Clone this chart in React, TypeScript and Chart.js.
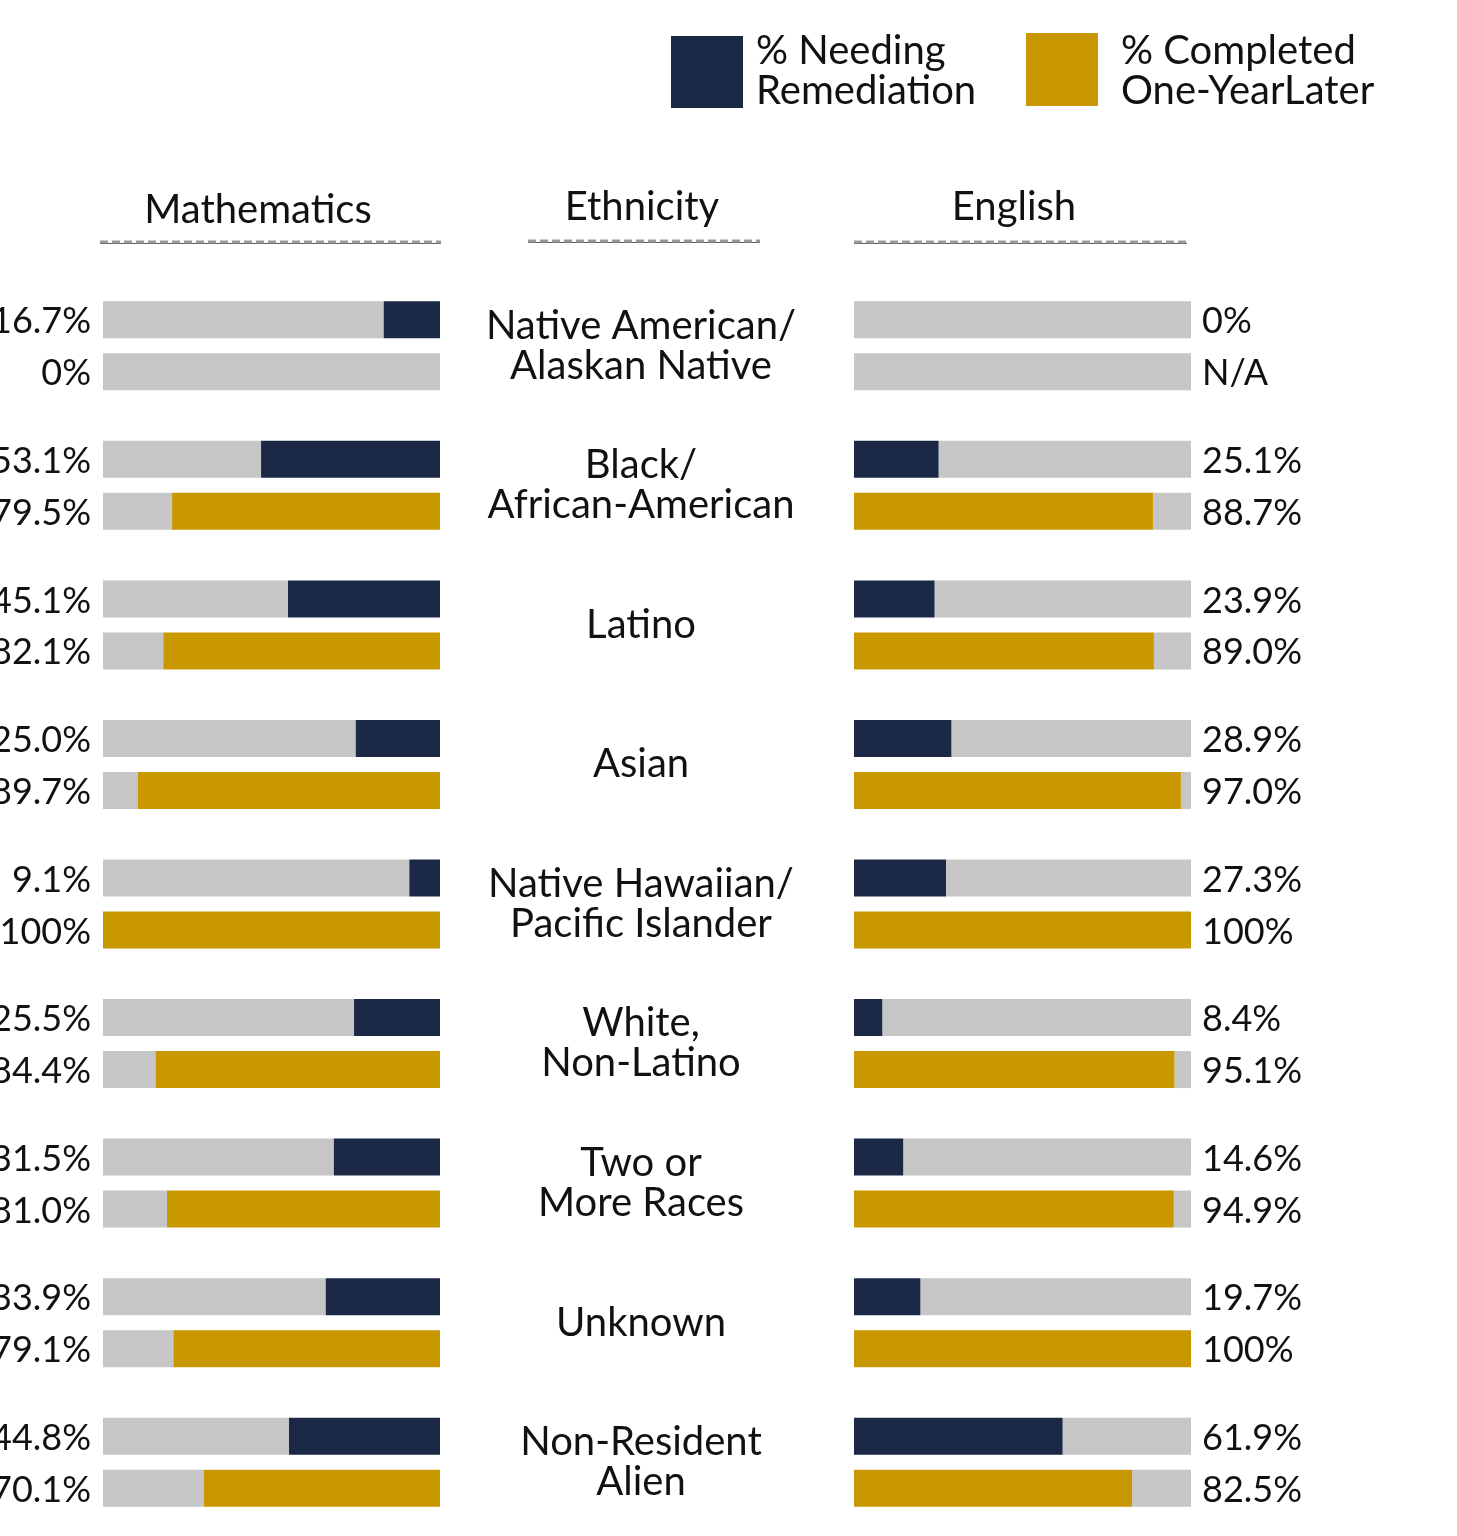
import React, { useEffect, useRef } from "react";
import { Chart, registerables } from "chart.js";

Chart.register(...registerables);

// ---------- data ----------
const ethnicities: string[][] = [
  ["Native American/", "Alaskan Native"],
  ["Black/", "African-American"],
  ["Latino"],
  ["Asian"],
  ["Native Hawaiian/", "Pacific Islander"],
  ["White,", "Non-Latino"],
  ["Two or", "More Races"],
  ["Unknown"],
  ["Non-Resident", "Alien"],
];
const mathRemediation: (number | null)[] = [16.7, 53.1, 45.1, 25.0, 9.1, 25.5, 31.5, 33.9, 44.8];
const mathCompleted: (number | null)[] = [0, 79.5, 82.1, 89.7, 100, 84.4, 81.0, 79.1, 70.1];
const englishRemediation: (number | null)[] = [0, 25.1, 23.9, 28.9, 27.3, 8.4, 14.6, 19.7, 61.9];
const englishCompleted: (number | null)[] = [null, 88.7, 89.0, 97.0, 100, 95.1, 94.9, 100, 82.5];
const legendLabels: string[][] = [
  ["% Needing", "Remediation"],
  ["% Completed", "One-YearLater"],
];
const panelTitles = ["Mathematics", "Ethnicity", "English"];

// ---------- style ----------
const NAVY = "#1b2846";
const GOLD = "#c99700";
const GRAY = "#c6c6c6";
const TEXT = "#111111";
const FONT = "Lato, 'Noto Sans', sans-serif";
const W = 1457;
const H = 1536;

const fmt = (v: number | null) =>
  v === null ? "N/A" : v === 0 || v === 100 ? `${v}%` : `${v.toFixed(1)}%`;

function panelDatasets(rem: (number | null)[], comp: (number | null)[]) {
  return [
    { label: legendLabels[0].join(" "), data: rem.map((v) => v ?? 0), backgroundColor: NAVY, stack: "rem" },
    { label: "rest-rem", data: rem.map((v) => 100 - (v ?? 0)), backgroundColor: GRAY, stack: "rem" },
    { label: legendLabels[1].join(" "), data: comp.map((v) => v ?? 0), backgroundColor: GOLD, stack: "comp" },
    { label: "rest-comp", data: comp.map((v) => 100 - (v ?? 0)), backgroundColor: GRAY, stack: "comp" },
  ];
}

function valueLabelPlugin(side: "left" | "right", rem: (number | null)[], comp: (number | null)[]) {
  return {
    id: "valueLabels",
    afterDatasetsDraw(chart: any) {
      const ctx = chart.ctx;
      const area = chart.chartArea;
      ctx.save();
      ctx.font = `36px ${FONT}`;
      ctx.fillStyle = TEXT;
      ctx.textBaseline = "middle";
      ctx.textAlign = side === "left" ? "right" : "left";
      const x = side === "left" ? area.left - 12 : area.right + 11;
      [
        [0, rem],
        [2, comp],
      ].forEach(([dsIndex, values]: any) => {
        const meta = chart.getDatasetMeta(dsIndex);
        meta.data.forEach((el: any, i: number) => {
          ctx.fillText(fmt(values[i]), x, el.y + 2);
        });
      });
      ctx.restore();
    },
  };
}

function drawUnderline(ctx: CanvasRenderingContext2D, x1: number, x2: number, y: number) {
  ctx.save();
  ctx.strokeStyle = "#555555";
  ctx.lineWidth = 1;
  ctx.beginPath();
  ctx.moveTo(x1, y + 1.5);
  ctx.lineTo(x2, y + 1.5);
  ctx.stroke();
  ctx.strokeStyle = "#9a9a9a";
  ctx.lineWidth = 3;
  ctx.setLineDash([8, 4]);
  ctx.beginPath();
  ctx.moveTo(x1, y);
  ctx.lineTo(x2, y);
  ctx.stroke();
  ctx.restore();
}

const decorPlugin = {
  id: "decor",
  afterDraw(chart: any) {
    const ctx = chart.ctx as CanvasRenderingContext2D;
    const yScale = chart.scales.y;
    ctx.save();
    ctx.fillStyle = TEXT;
    ctx.textBaseline = "middle";
    ctx.textAlign = "center";
    ctx.font = `40px ${FONT}`;

    // ethnicity labels (centre column)
    ethnicities.forEach((lines, i) => {
      const cy = yScale.getPixelForValue(i);
      const lh = 40;
      const start = cy - ((lines.length - 1) * lh) / 2;
      lines.forEach((ln, j) => ctx.fillText(ln, 641, start + j * lh));
    });

    // panel titles with dashed underlines
    const titles = [
      { t: panelTitles[0], x: 258, y: 210, u: [100, 441, 242] },
      { t: panelTitles[1], x: 642, y: 207, u: [528, 760, 241] },
      { t: panelTitles[2], x: 1014, y: 207, u: [854, 1187, 242] },
    ];
    titles.forEach((h) => {
      ctx.fillStyle = TEXT;
      ctx.fillText(h.t, h.x, h.y);
      drawUnderline(ctx, h.u[0], h.u[1], h.u[2]);
    });

    // legend
    const items = [
      { color: NAVY, box: [671, 36, 72, 72], tx: 756, lines: legendLabels[0] },
      { color: GOLD, box: [1026, 33, 72, 73], tx: 1121, lines: legendLabels[1] },
    ];
    ctx.textAlign = "left";
    items.forEach((it) => {
      ctx.fillStyle = it.color;
      ctx.fillRect(it.box[0], it.box[1], it.box[2], it.box[3]);
      ctx.fillStyle = TEXT;
      it.lines.forEach((ln, j) => ctx.fillText(ln, it.tx, 51 + j * 40));
    });
    ctx.restore();
  },
};

function makeConfig(
  rem: (number | null)[],
  comp: (number | null)[],
  side: "left" | "right",
  padLeft: number,
  padRight: number,
  extraPlugins: any[]
): any {
  return {
    type: "bar",
    data: { labels: ethnicities, datasets: panelDatasets(rem, comp) },
    options: {
      indexAxis: "y",
      responsive: false,
      animation: false,
      events: [],
      layout: { padding: { left: padLeft, right: padRight, top: 276, bottom: 4 } },
      datasets: {
        bar: { categoryPercentage: 0.7451, barPercentage: 0.7115, borderWidth: 0 },
      },
      scales: {
        x: { type: "linear", min: 0, max: 100, reverse: side === "left", stacked: true, display: false },
        y: { type: "category", stacked: true, offset: true, display: false },
      },
      plugins: { legend: { display: false }, tooltip: { enabled: false }, title: { display: false } },
    },
    plugins: [valueLabelPlugin(side, rem, comp), ...extraPlugins],
  };
}

export default function App() {
  const mathRef = useRef<HTMLCanvasElement>(null);
  const engRef = useRef<HTMLCanvasElement>(null);

  useEffect(() => {
    document.body.style.margin = "0";
    const charts: Chart[] = [];
    if (mathRef.current) {
      charts.push(new Chart(mathRef.current, makeConfig(mathRemediation, mathCompleted, "left", 103, W - 440, [])));
    }
    if (engRef.current) {
      charts.push(
        new Chart(engRef.current, makeConfig(englishRemediation, englishCompleted, "right", 854, W - 1191, [decorPlugin]))
      );
    }
    return () => charts.forEach((c) => c.destroy());
  }, []);

  const canvasStyle: React.CSSProperties = {
    position: "absolute",
    top: 0,
    left: 0,
    width: W,
    height: H,
    display: "block",
  };

  return (
    <div style={{ position: "absolute", top: 0, left: 0, width: W, height: H, background: "#ffffff", overflow: "hidden" }}>
      <canvas ref={mathRef} width={W} height={H} style={canvasStyle} />
      <canvas ref={engRef} width={W} height={H} style={canvasStyle} />
    </div>
  );
}
